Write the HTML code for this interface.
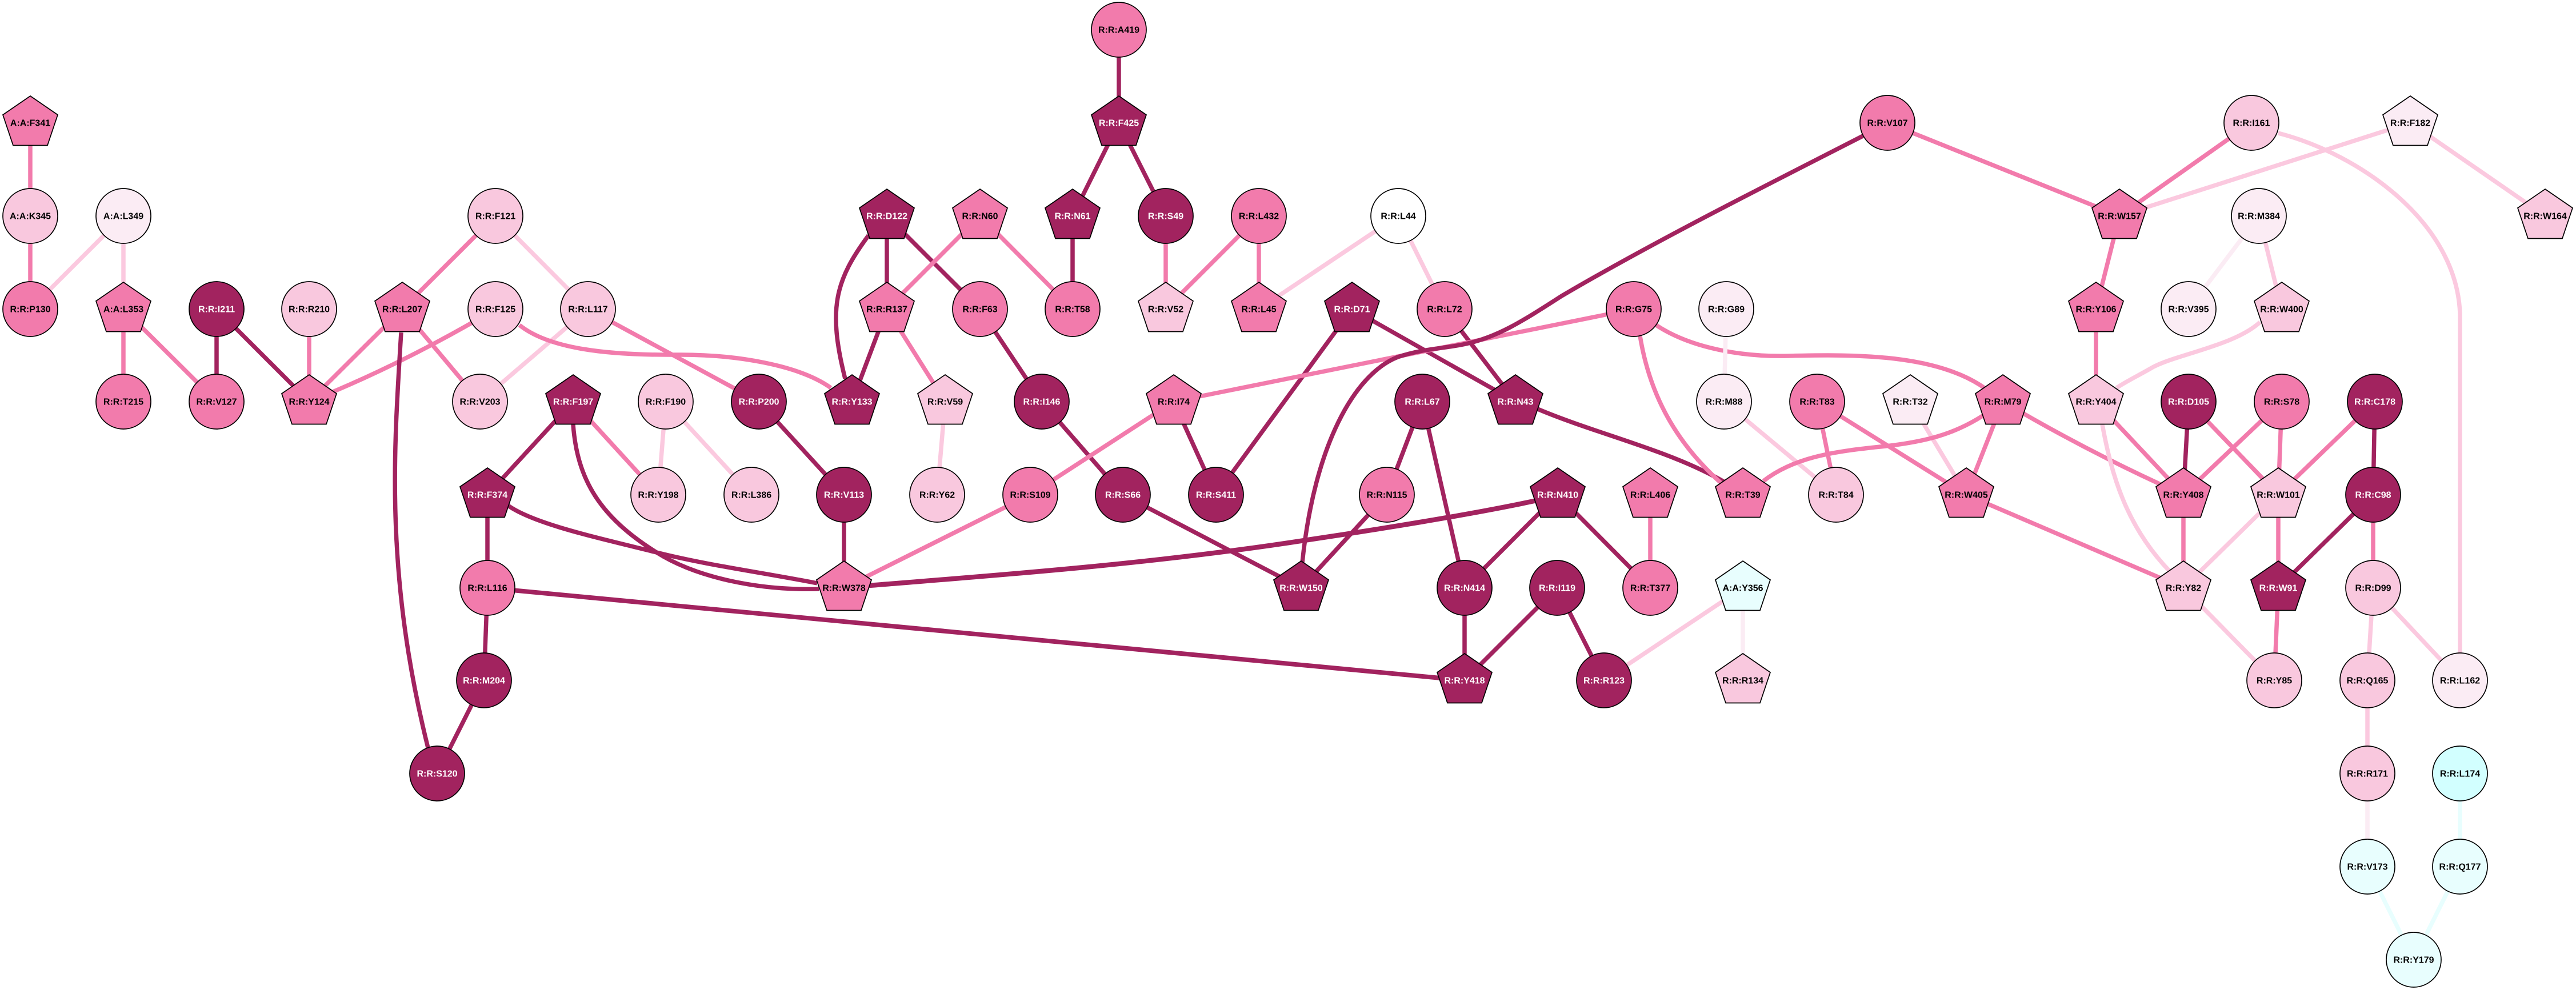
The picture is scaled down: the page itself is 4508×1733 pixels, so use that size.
<!DOCTYPE html>
<html><head><meta charset="utf-8"><title>Network</title>
<style>
html,body{margin:0;padding:0;background:#fff}
svg{display:block}
path{fill:none;stroke-width:7.5}
path.D{stroke:#a2235f}path.M{stroke:#f27bac}path.L{stroke:#fbc9df}path.V{stroke:#fbecf4}path.C{stroke:#e8fefe}
g.d{fill:#a2235f}g.m{fill:#f27bac}g.l{fill:#f9c8de}g.v{fill:#fbecf4}g.w{fill:#fff}g.c{fill:#e8fefe}g.k{fill:#d2ffff}
circle,polygon{stroke:#000;stroke-width:1.7}
text{font:bold 16px "Liberation Sans",Arial,sans-serif;text-anchor:middle;fill:#000;stroke:none}
g.d text{fill:#fff}
</style></head><body>
<svg width="4508" height="1733" viewBox="0 0 4508 1733" xmlns="http://www.w3.org/2000/svg">
<rect width="4508" height="1733" fill="#fff"/>
<defs>
<circle id="c" r="48"/>
<polygon id="p" points="0,-47 48,-14 30,39.5 -30,39.5 -48,-14"/>
</defs>
<!-- edges -->
<path class="M" d="M53 215L53 378"/>
<path class="M" d="M53 378L53 541"/>
<path class="L" d="M216 378L53 541"/>
<path class="L" d="M216 378L216 541"/>
<path class="M" d="M216 541L216 703"/>
<path class="M" d="M216 541L379 703"/>
<path class="D" d="M379 541L379 703"/>
<path class="D" d="M379 541L541 703"/>
<path class="M" d="M541 541L541 703"/>
<path class="M" d="M704 541L541 703"/>
<path class="M" d="M867 541Q704 638 541 703"/>
<path class="M" d="M867 378L704 541"/>
<path class="L" d="M867 378L1029 541"/>
<path class="M" d="M704 541L840 703"/>
<path class="L" d="M1029 541L840 703"/>
<path class="D" d="M702 582C690 780 672 1000 749 1309"/>
<path class="M" d="M909 569C960 610 1060 622 1184 621C1290 620 1400 640 1454 679"/>
<path class="M" d="M1029 541L1328 703"/>
<path class="D" d="M1328 703L1477 866"/>
<path class="D" d="M1003 703L853 866"/>
<path class="D" d="M1003 743C1010 840 1050 905 1149 967C1220 1012 1330 1034 1433 1031"/>
<path class="M" d="M1003 703L1152 866"/>
<path class="L" d="M1165 703L1152 866"/>
<path class="L" d="M1165 703L1315 866"/>
<path class="D" d="M853 866L853 1029"/>
<path class="D" d="M889 885C935 917 1040 940 1149 967C1240 990 1340 1003 1430 1021"/>
<path class="D" d="M853 1029L847 1191"/>
<path class="D" d="M847 1191L765 1354"/>
<path class="D" d="M853 1029L2563 1191" style="stroke-width:8"/>
<path class="D" d="M1477 866L1477 1029"/>
<path class="M" d="M1803 866L1477 1029"/>
<path class="D" d="M1521 1025C1700 1010 2000 990 2289 945C2390 930 2580 900 2689 876" style="stroke-width:8.5"/>
<path class="D" d="M1965 866L2277 1029"/>
<path class="D" d="M1823 703L1965 866"/>
<path class="D" d="M1715 541L1823 703"/>
<path class="D" d="M1552 378L1715 541"/>
<path class="D" d="M1552 378L1552 541"/>
<path class="D" d="M1520 412C1462 490 1448 540 1479 663"/>
<path class="M" d="M1715 378L1552 541"/>
<path class="M" d="M1715 378L1877 541"/>
<path class="D" d="M1877 378L1877 541"/>
<path class="D" d="M1958 215L1877 378"/>
<path class="D" d="M1958 215L2040 378"/>
<path class="D" d="M1958 52L1958 215"/>
<path class="M" d="M2040 378L2040 541"/>
<path class="M" d="M2203 378L2040 541"/>
<path class="M" d="M2203 378L2203 541"/>
<path class="L" d="M2447 378L2203 541"/>
<path class="L" d="M2447 378L2528 541"/>
<path class="D" d="M2528 541L2652 703"/>
<path class="D" d="M2366 541L2652 703"/>
<path class="D" d="M2366 541L2128 866"/>
<path class="D" d="M2054 703L2128 866"/>
<path class="M" d="M2054 703L1803 866"/>
<path class="M" d="M2859 541L2054 703"/>
<path class="D" d="M1552 541L1491 703"/>
<path class="M" d="M1552 541L1654 703"/>
<path class="L" d="M1654 703L1640 866"/>
<path class="D" d="M2691 716C2800 762 2930 790 3025 848"/>
<path class="M" d="M2870 588C2885 680 2925 770 3017 850"/>
<path class="M" d="M2898 569C2960 610 3050 625 3130 623C3250 620 3390 620 3474 680"/>
<path class="V" d="M3021 541L3017 703"/>
<path class="L" d="M3017 703L3213 866"/>
<path class="M" d="M3180 703L3213 866"/>
<path class="M" d="M3180 703L3441 866"/>
<path class="L" d="M3343 703L3441 866"/>
<path class="M" d="M3086 842C3140 800 3210 790 3300 781C3370 773 3420 760 3471 727"/>
<path class="M" d="M3505 703L3441 866"/>
<path class="M" d="M3505 703Q3663 796 3821 866"/>
<path class="M" d="M3303 215L3709 378"/>
<path class="D" d="M3260 238C3100 320 2900 420 2733 518C2660 565 2620 590 2565 602C2530 610 2490 610 2446 625C2370 655 2300 780 2279 985"/>
<path class="M" d="M3940 215L3709 378"/>
<path class="L" d="M4218 215L3709 378"/>
<path class="L" d="M4218 215L4454 378"/>
<path class="M" d="M3709 378L3668 541"/>
<path class="M" d="M3668 541L3668 703"/>
<path class="L" d="M3987 233C4130 270 4300 390 4305 550L4305 1145"/>
<path class="V" d="M3953 378L3830 541"/>
<path class="L" d="M3953 378L3993 541"/>
<path class="L" d="M3955 564C3910 605 3810 620 3767 643C3745 656 3720 668 3704 679"/>
<path class="M" d="M3668 703L3821 866"/>
<path class="L" d="M3679 743C3695 830 3720 920 3797 1000"/>
<path class="D" d="M3830 703L3821 866"/>
<path class="M" d="M3830 703L3987 866"/>
<path class="M" d="M3993 703L3821 866"/>
<path class="M" d="M3993 703L3987 866"/>
<path class="M" d="M4156 703L3987 866"/>
<path class="D" d="M4156 703L4153 866"/>
<path class="D" d="M4153 866L3987 1029"/>
<path class="M" d="M4153 866L4153 1029"/>
<path class="M" d="M3821 866L3821 1029"/>
<path class="L" d="M3987 866L3821 1029"/>
<path class="M" d="M3987 866L3987 1029"/>
<path class="M" d="M3441 866L3821 1029"/>
<path class="L" d="M3821 1029L3980 1191"/>
<path class="M" d="M3987 1029L3980 1191"/>
<path class="L" d="M4153 1029L4143 1191"/>
<path class="L" d="M4153 1029L4305 1191"/>
<path class="L" d="M4143 1191L4143 1354"/>
<path class="V" d="M4143 1354L4143 1517"/>
<path class="C" d="M4305 1354L4305 1517"/>
<path class="C" d="M4143 1517L4224 1680"/>
<path class="C" d="M4305 1517L4224 1680"/>
<path class="L" d="M3050 1029L2807 1191"/>
<path class="V" d="M3050 1029L3050 1191"/>
<path class="D" d="M2489 703L2427 866"/>
<path class="D" d="M2489 703L2563 1029"/>
<path class="D" d="M2427 866L2277 1029"/>
<path class="D" d="M2726 866L2563 1029"/>
<path class="D" d="M2726 866L2888 1029"/>
<path class="M" d="M2888 866L2888 1029"/>
<path class="D" d="M2563 1029L2563 1191"/>
<path class="D" d="M2725 1029L2563 1191"/>
<path class="D" d="M2725 1029L2807 1191"/>
<!-- nodes -->
<g class="m" transform="translate(53,215)"><use href="#p"/><text y="5.5">A:A:F341</text></g>
<g class="l" transform="translate(53,378)"><use href="#c"/><text y="5.5">A:A:K345</text></g>
<g class="v" transform="translate(216,378)"><use href="#c"/><text y="5.5">A:A:L349</text></g>
<g class="m" transform="translate(53,541)"><use href="#c"/><text y="5.5">R:R:P130</text></g>
<g class="m" transform="translate(216,541)"><use href="#p"/><text y="5.5">A:A:L353</text></g>
<g class="d" transform="translate(379,541)"><use href="#c"/><text y="5.5">R:R:I211</text></g>
<g class="l" transform="translate(541,541)"><use href="#c"/><text y="5.5">R:R:R210</text></g>
<g class="m" transform="translate(704,541)"><use href="#p"/><text y="5.5">R:R:L207</text></g>
<g class="l" transform="translate(867,541)"><use href="#c"/><text y="5.5">R:R:F125</text></g>
<g class="l" transform="translate(1029,541)"><use href="#c"/><text y="5.5">R:R:L117</text></g>
<g class="l" transform="translate(867,378)"><use href="#c"/><text y="5.5">R:R:F121</text></g>
<g class="m" transform="translate(216,703)"><use href="#c"/><text y="5.5">R:R:T215</text></g>
<g class="m" transform="translate(379,703)"><use href="#c"/><text y="5.5">R:R:V127</text></g>
<g class="m" transform="translate(541,703)"><use href="#p"/><text y="5.5">R:R:Y124</text></g>
<g class="l" transform="translate(840,703)"><use href="#c"/><text y="5.5">R:R:V203</text></g>
<g class="d" transform="translate(1003,703)"><use href="#p"/><text y="5.5">R:R:F197</text></g>
<g class="d" transform="translate(853,866)"><use href="#p"/><text y="5.5">R:R:F374</text></g>
<g class="m" transform="translate(1958,52)"><use href="#c"/><text y="5.5">R:R:A419</text></g>
<g class="d" transform="translate(1958,215)"><use href="#p"/><text y="5.5">R:R:F425</text></g>
<g class="d" transform="translate(1552,378)"><use href="#p"/><text y="5.5">R:R:D122</text></g>
<g class="m" transform="translate(1715,378)"><use href="#p"/><text y="5.5">R:R:N60</text></g>
<g class="d" transform="translate(1877,378)"><use href="#p"/><text y="5.5">R:R:N61</text></g>
<g class="d" transform="translate(2040,378)"><use href="#c"/><text y="5.5">R:R:S49</text></g>
<g class="m" transform="translate(2203,378)"><use href="#c"/><text y="5.5">R:R:L432</text></g>
<g class="m" transform="translate(1552,541)"><use href="#p"/><text y="5.5">R:R:R137</text></g>
<g class="m" transform="translate(1715,541)"><use href="#c"/><text y="5.5">R:R:F63</text></g>
<g class="m" transform="translate(1877,541)"><use href="#c"/><text y="5.5">R:R:T58</text></g>
<g class="l" transform="translate(2040,541)"><use href="#p"/><text y="5.5">R:R:V52</text></g>
<g class="m" transform="translate(2203,541)"><use href="#p"/><text y="5.5">R:R:L45</text></g>
<g class="l" transform="translate(1165,703)"><use href="#c"/><text y="5.5">R:R:F190</text></g>
<g class="d" transform="translate(1328,703)"><use href="#c"/><text y="5.5">R:R:P200</text></g>
<g class="d" transform="translate(1491,703)"><use href="#p"/><text y="5.5">R:R:Y133</text></g>
<g class="l" transform="translate(1654,703)"><use href="#p"/><text y="5.5">R:R:V59</text></g>
<g class="d" transform="translate(1823,703)"><use href="#c"/><text y="5.5">R:R:I146</text></g>
<g class="m" transform="translate(2054,703)"><use href="#p"/><text y="5.5">R:R:I74</text></g>
<g class="w" transform="translate(2447,378)"><use href="#c"/><text y="5.5">R:R:L44</text></g>
<g class="d" transform="translate(2366,541)"><use href="#p"/><text y="5.5">R:R:D71</text></g>
<g class="m" transform="translate(2528,541)"><use href="#c"/><text y="5.5">R:R:L72</text></g>
<g class="m" transform="translate(2859,541)"><use href="#c"/><text y="5.5">R:R:G75</text></g>
<g class="v" transform="translate(3021,541)"><use href="#c"/><text y="5.5">R:R:G89</text></g>
<g class="d" transform="translate(2489,703)"><use href="#c"/><text y="5.5">R:R:L67</text></g>
<g class="d" transform="translate(2652,703)"><use href="#p"/><text y="5.5">R:R:N43</text></g>
<g class="v" transform="translate(3017,703)"><use href="#c"/><text y="5.5">R:R:M88</text></g>
<g class="m" transform="translate(3180,703)"><use href="#c"/><text y="5.5">R:R:T83</text></g>
<g class="v" transform="translate(3343,703)"><use href="#p"/><text y="5.5">R:R:T32</text></g>
<g class="m" transform="translate(2427,866)"><use href="#c"/><text y="5.5">R:R:N115</text></g>
<g class="d" transform="translate(2726,866)"><use href="#p"/><text y="5.5">R:R:N410</text></g>
<g class="m" transform="translate(2888,866)"><use href="#p"/><text y="5.5">R:R:L406</text></g>
<g class="m" transform="translate(3050,866)"><use href="#p"/><text y="5.5">R:R:T39</text></g>
<g class="l" transform="translate(3213,866)"><use href="#c"/><text y="5.5">R:R:T84</text></g>
<g class="m" transform="translate(3303,215)"><use href="#c"/><text y="5.5">R:R:V107</text></g>
<g class="l" transform="translate(3940,215)"><use href="#c"/><text y="5.5">R:R:I161</text></g>
<g class="v" transform="translate(4218,215)"><use href="#p"/><text y="5.5">R:R:F182</text></g>
<g class="m" transform="translate(3709,378)"><use href="#p"/><text y="5.5">R:R:W157</text></g>
<g class="v" transform="translate(3953,378)"><use href="#c"/><text y="5.5">R:R:M384</text></g>
<g class="l" transform="translate(4454,378)"><use href="#p"/><text y="5.5">R:R:W164</text></g>
<g class="m" transform="translate(3668,541)"><use href="#p"/><text y="5.5">R:R:Y106</text></g>
<g class="v" transform="translate(3830,541)"><use href="#c"/><text y="5.5">R:R:V395</text></g>
<g class="l" transform="translate(3993,541)"><use href="#p"/><text y="5.5">R:R:W400</text></g>
<g class="m" transform="translate(3505,703)"><use href="#p"/><text y="5.5">R:R:M79</text></g>
<g class="l" transform="translate(3668,703)"><use href="#p"/><text y="5.5">R:R:Y404</text></g>
<g class="d" transform="translate(3830,703)"><use href="#c"/><text y="5.5">R:R:D105</text></g>
<g class="m" transform="translate(3993,703)"><use href="#c"/><text y="5.5">R:R:S78</text></g>
<g class="d" transform="translate(4156,703)"><use href="#c"/><text y="5.5">R:R:C178</text></g>
<g class="m" transform="translate(3441,866)"><use href="#p"/><text y="5.5">R:R:W405</text></g>
<g class="m" transform="translate(3821,866)"><use href="#p"/><text y="5.5">R:R:Y408</text></g>
<g class="l" transform="translate(3987,866)"><use href="#p"/><text y="5.5">R:R:W101</text></g>
<g class="d" transform="translate(4153,866)"><use href="#c"/><text y="5.5">R:R:C98</text></g>
<g class="l" transform="translate(3821,1029)"><use href="#p"/><text y="5.5">R:R:Y82</text></g>
<g class="d" transform="translate(3987,1029)"><use href="#p"/><text y="5.5">R:R:W91</text></g>
<g class="l" transform="translate(4153,1029)"><use href="#c"/><text y="5.5">R:R:D99</text></g>
<g class="l" transform="translate(3980,1191)"><use href="#c"/><text y="5.5">R:R:Y85</text></g>
<g class="l" transform="translate(4143,1191)"><use href="#c"/><text y="5.5">R:R:Q165</text></g>
<g class="v" transform="translate(4305,1191)"><use href="#c"/><text y="5.5">R:R:L162</text></g>
<g class="l" transform="translate(4143,1354)"><use href="#c"/><text y="5.5">R:R:R171</text></g>
<g class="k" transform="translate(4305,1354)"><use href="#c"/><text y="5.5">R:R:L174</text></g>
<g class="c" transform="translate(4143,1517)"><use href="#c"/><text y="5.5">R:R:V173</text></g>
<g class="c" transform="translate(4305,1517)"><use href="#c"/><text y="5.5">R:R:Q177</text></g>
<g class="c" transform="translate(4224,1680)"><use href="#c"/><text y="5.5">R:R:Y179</text></g>
<g class="l" transform="translate(1152,866)"><use href="#c"/><text y="5.5">R:R:Y198</text></g>
<g class="l" transform="translate(1315,866)"><use href="#c"/><text y="5.5">R:R:L386</text></g>
<g class="d" transform="translate(1477,866)"><use href="#c"/><text y="5.5">R:R:V113</text></g>
<g class="l" transform="translate(1640,866)"><use href="#c"/><text y="5.5">R:R:Y62</text></g>
<g class="m" transform="translate(1803,866)"><use href="#c"/><text y="5.5">R:R:S109</text></g>
<g class="m" transform="translate(853,1029)"><use href="#c"/><text y="5.5">R:R:L116</text></g>
<g class="m" transform="translate(1477,1029)"><use href="#p"/><text y="5.5">R:R:W378</text></g>
<g class="d" transform="translate(847,1191)"><use href="#c"/><text y="5.5">R:R:M204</text></g>
<g class="d" transform="translate(765,1354)"><use href="#c"/><text y="5.5">R:R:S120</text></g>
<g class="d" transform="translate(1965,866)"><use href="#c"/><text y="5.5">R:R:S66</text></g>
<g class="d" transform="translate(2128,866)"><use href="#c"/><text y="5.5">R:R:S411</text></g>
<g class="d" transform="translate(2277,1029)"><use href="#p"/><text y="5.5">R:R:W150</text></g>
<g class="d" transform="translate(2563,1029)"><use href="#c"/><text y="5.5">R:R:N414</text></g>
<g class="d" transform="translate(2725,1029)"><use href="#c"/><text y="5.5">R:R:I119</text></g>
<g class="m" transform="translate(2888,1029)"><use href="#c"/><text y="5.5">R:R:T377</text></g>
<g class="c" transform="translate(3050,1029)"><use href="#p"/><text y="5.5">A:A:Y356</text></g>
<g class="d" transform="translate(2563,1191)"><use href="#p"/><text y="5.5">R:R:Y418</text></g>
<g class="d" transform="translate(2807,1191)"><use href="#c"/><text y="5.5">R:R:R123</text></g>
<g class="l" transform="translate(3050,1191)"><use href="#p"/><text y="5.5">R:R:R134</text></g>
</svg>
</body></html>
